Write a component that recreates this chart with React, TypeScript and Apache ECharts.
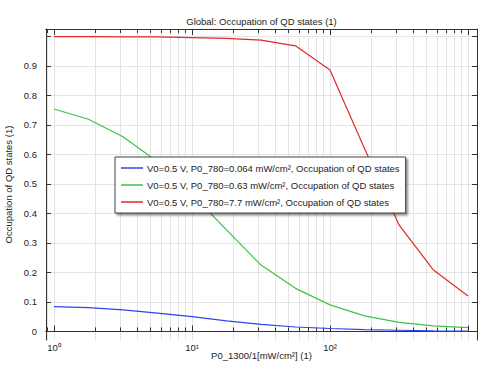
import React, { useEffect, useRef } from 'react';
import * as echarts from 'echarts';

const xValues = [1, 1.778, 3.162, 5.623, 10, 17.78, 31.62, 56.23, 100, 177.8, 316.2, 562.3, 1000];
const blueValues = [0.084, 0.081, 0.073, 0.062, 0.05, 0.036, 0.024, 0.015, 0.01, 0.006, 0.004, 0.002, 0.001];
const greenValues = [0.754, 0.719, 0.66, 0.575, 0.465, 0.344, 0.225, 0.146, 0.09, 0.053, 0.031, 0.019, 0.013];
const redValues = [0.999, 0.999, 0.998, 0.998, 0.996, 0.993, 0.987, 0.968, 0.886, 0.62, 0.361, 0.208, 0.12];
const seriesNames = [
  'V0=0.5 V, P0_780=0.064 mW/cm², Occupation of QD states',
  'V0=0.5 V, P0_780=0.63 mW/cm², Occupation of QD states',
  'V0=0.5 V, P0_780=7.7 mW/cm², Occupation of QD states',
];
const seriesColors = ['#2f45ea', '#3fc24a', '#e02a2a'];
const titleText = 'Global: Occupation of QD states (1)';
const xAxisTitle = 'P0_1300/1[mW/cm²] (1)';
const yAxisTitle = 'Occupation of QD states (1)';
const xMajorTicks = [1, 10, 100, 1000];
const xMinorTicks = [0.9, 2, 3, 4, 5, 6, 7, 8, 9, 20, 30, 40, 50, 60, 70, 80, 90, 200, 300, 400, 500, 600, 700, 800, 900];
const xLabelTicks = [1, 10, 100];
const yTicks = [0, 0.1, 0.2, 0.3, 0.4, 0.5, 0.6, 0.7, 0.8, 0.9, 1.0];
const yLabelTicks = [0, 0.1, 0.2, 0.3, 0.4, 0.5, 0.6, 0.7, 0.8, 0.9];
const xRange = [0.875, 1162];
const yRange = [-0.029, 1.025];

const FONT = '"Liberation Sans", Arial, sans-serif';
const TEXT = '#222';
const AXIS = '#333';
const GRID = '#e4e4e4';
const SUP: Record<number, string> = { 0: '⁰', 1: '¹', 2: '²', 3: '³' };

export default function App() {
  const ref = useRef<HTMLDivElement>(null);
  useEffect(() => {
    if (!ref.current) return;
    const chart = echarts.init(ref.current, undefined, { renderer: 'svg' });
    const allXTicks = [...xMinorTicks, ...xMajorTicks].sort((a, b) => a - b);
    const baseX = {
      type: 'log',
      logBase: 10,
      min: xRange[0],
      max: xRange[1],
      gridIndex: 0,
      axisLine: { show: true, lineStyle: { color: AXIS, width: 1 } },
      axisLabel: { show: false },
      splitLine: { show: false },
      minorTick: { show: false },
    };
    const option: any = {
      animation: false,
      backgroundColor: '#fff',
      textStyle: { fontFamily: FONT },
      graphic: [
        {
          type: 'text',
          x: 261.5,
          y: 21,
          style: {
            text: titleText,
            fill: TEXT,
            font: `9.5px ${FONT}`,
            textAlign: 'center',
            textVerticalAlign: 'middle',
          },
        },
        {
          type: 'text',
          x: 8.5,
          y: 184.5,
          rotation: Math.PI / 2,
          style: {
            text: yAxisTitle,
            fill: TEXT,
            font: `9.5px ${FONT}`,
            textAlign: 'center',
            textVerticalAlign: 'middle',
          },
        },
      ],
      grid: { left: 46, right: 14, top: 29, bottom: 35, containLabel: false },
      legend: {
        orient: 'vertical',
        left: 115,
        top: 157,
        padding: [5, 6, 5, 6],
        icon: 'rect',
        itemWidth: 22,
        itemHeight: 1.5,
        itemGap: 5,
        backgroundColor: '#fff',
        borderColor: '#444',
        borderWidth: 1,
        shadowColor: 'rgba(0,0,0,0.45)',
        shadowBlur: 2,
        shadowOffsetX: 2,
        shadowOffsetY: 2,
        textStyle: { fontFamily: FONT, fontSize: 9.5, color: TEXT, lineHeight: 12, padding: [0, 0, 0, -1] },
        data: seriesNames,
      },
      xAxis: [
        {
          ...baseX,
          position: 'bottom',
          name: xAxisTitle,
          nameLocation: 'middle',
          nameGap: 10,
          nameMoveOverlap: false,
          nameTextStyle: { fontFamily: FONT, fontSize: 9.5, color: TEXT },
          axisTick: { show: true, inside: true, length: 4, lineStyle: { color: AXIS }, customValues: allXTicks },
          axisLabel: {
            show: true,
            fontFamily: FONT,
            fontSize: 9.5,
            color: TEXT,
            margin: 2,
            customValues: xLabelTicks,
            formatter: (v: number) => '10' + SUP[Math.round(Math.log10(v))],
          },
          splitLine: { show: true, lineStyle: { color: GRID, width: 1 } },
        },
        {
          ...baseX,
          position: 'bottom',
          axisTick: { show: true, inside: true, length: 6, lineStyle: { color: AXIS }, customValues: xMajorTicks },
        },
        {
          ...baseX,
          position: 'top',
          axisTick: { show: true, inside: true, length: 4, lineStyle: { color: AXIS }, customValues: allXTicks },
        },
        {
          ...baseX,
          position: 'top',
          axisTick: { show: true, inside: true, length: 6, lineStyle: { color: AXIS }, customValues: xMajorTicks },
        },
      ],
      yAxis: [
        {
          type: 'value',
          position: 'left',
          min: yRange[0],
          max: yRange[1],
          axisLine: { show: true, lineStyle: { color: AXIS, width: 1 } },
          axisTick: { show: true, inside: true, length: 5, lineStyle: { color: AXIS }, customValues: yTicks },
          axisLabel: {
            show: true,
            fontFamily: FONT,
            fontSize: 9.5,
            color: TEXT,
            margin: 9,
            customValues: yLabelTicks,
            formatter: (v: number) => (Math.round(v * 10) / 10).toString(),
          },
          splitLine: { show: true, lineStyle: { color: GRID, width: 1 } },
        },
        {
          type: 'value',
          position: 'right',
          min: yRange[0],
          max: yRange[1],
          axisLine: { show: true, lineStyle: { color: AXIS, width: 1 } },
          axisTick: { show: true, inside: true, length: 5, lineStyle: { color: AXIS }, customValues: yTicks },
          axisLabel: { show: false },
          splitLine: { show: false },
        },
      ],
      series: [blueValues, greenValues, redValues].map((vals, i) => ({
        name: seriesNames[i],
        type: 'line',
        xAxisIndex: 0,
        yAxisIndex: 0,
        symbol: 'none',
        smooth: false,
        color: seriesColors[i],
        lineStyle: { color: seriesColors[i], width: 1.2 },
        data: xValues.map((x, j) => [x, vals[j]]),
        z: 3,
      })),
    };
    chart.setOption(option);
    return () => chart.dispose();
  }, []);
  return (
    <div
      ref={ref}
      style={{ position: 'fixed', left: 0, top: 0, width: 491, height: 375, background: '#fff' }}
    />
  );
}
